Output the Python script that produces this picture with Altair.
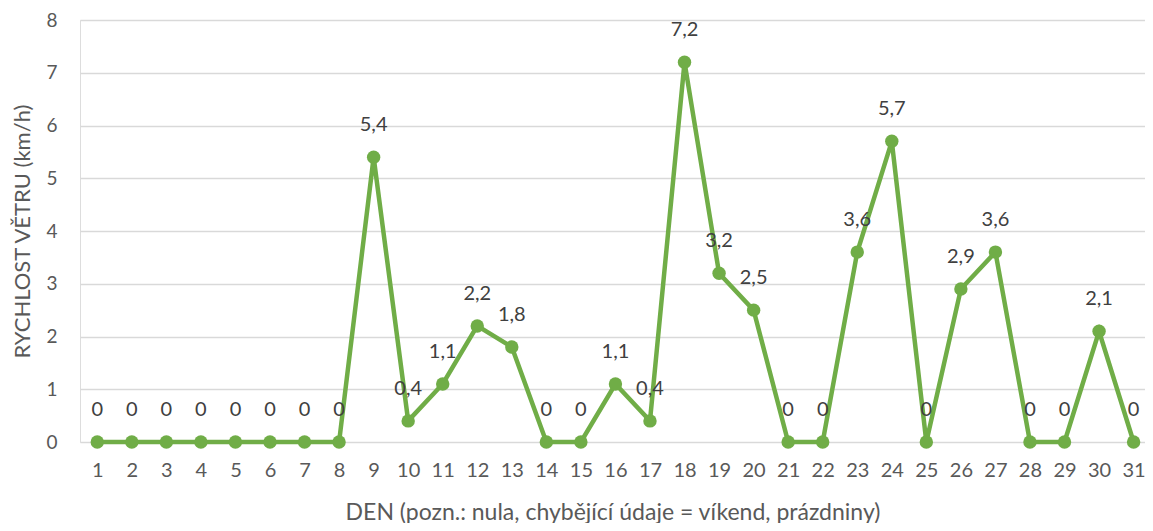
import altair as alt
import pandas as pd

days = list(range(1, 32))
speeds = [0, 0, 0, 0, 0, 0, 0, 0, 5.4, 0.4, 1.1, 2.2, 1.8, 0, 0, 1.1, 0.4,
          7.2, 3.2, 2.5, 0, 0, 3.6, 5.7, 0, 2.9, 3.6, 0, 0, 2.1, 0]
y_ticks = [0, 1, 2, 3, 4, 5, 6, 7, 8]

df = pd.DataFrame({"den": days, "v": speeds})

FONT = "Lato"
GREEN = "#70AD47"

x = alt.X("den:Q",
          scale=alt.Scale(domain=[0.5, 31.33], nice=False, zero=False),
          axis=alt.Axis(values=days, title="DEN (pozn.: nula, chybějící údaje = víkend, prázdniny)",
                        grid=False, ticks=False, domain=False, labelPadding=18,
                        labelFontSize=20, labelColor="#595959", labelFont=FONT,
                        titleFontSize=23, titleColor="#595959", titleFont=FONT,
                        titleFontWeight="normal", titleY=70, titleBaseline="middle"))
y = alt.Y("v:Q",
          scale=alt.Scale(domain=[0, 8], nice=False),
          axis=alt.Axis(values=y_ticks, title="RYCHLOST VĚTRU (km/h)",
                        grid=True, gridColor="#D9D9D9", gridWidth=1.5,
                        ticks=False, domain=False, labelPadding=23,
                        labelFontSize=19, labelColor="#595959", labelFont=FONT,
                        titleFontSize=22, titleColor="#595959", titleFont=FONT,
                        titleFontWeight="normal", titleX=-58, titleBaseline="middle"))

base = alt.Chart(df)
line = base.mark_line(color=GREEN, strokeWidth=4.5).encode(x=x, y=y)
pts = base.mark_point(filled=True, color=GREEN, size=180, opacity=1).encode(x=x, y=y)
txt = base.transform_calculate(
    lab="replace(toString(datum.v), '.', ',')"
).mark_text(dy=-32, fontSize=20, font=FONT, color="#404040", baseline="middle").encode(
    x=x, y=y, text="lab:N")

chart = (line + pts + txt).properties(
    width=1065, height=422,
    autosize=alt.AutoSizeParams(type="none"),
    padding={"left": 72, "top": 12, "right": 0, "bottom": 81},
).configure_view(stroke=None).configure(background="white")

chart.save("out.html", embed_options={"renderer": "svg", "actions": False})
